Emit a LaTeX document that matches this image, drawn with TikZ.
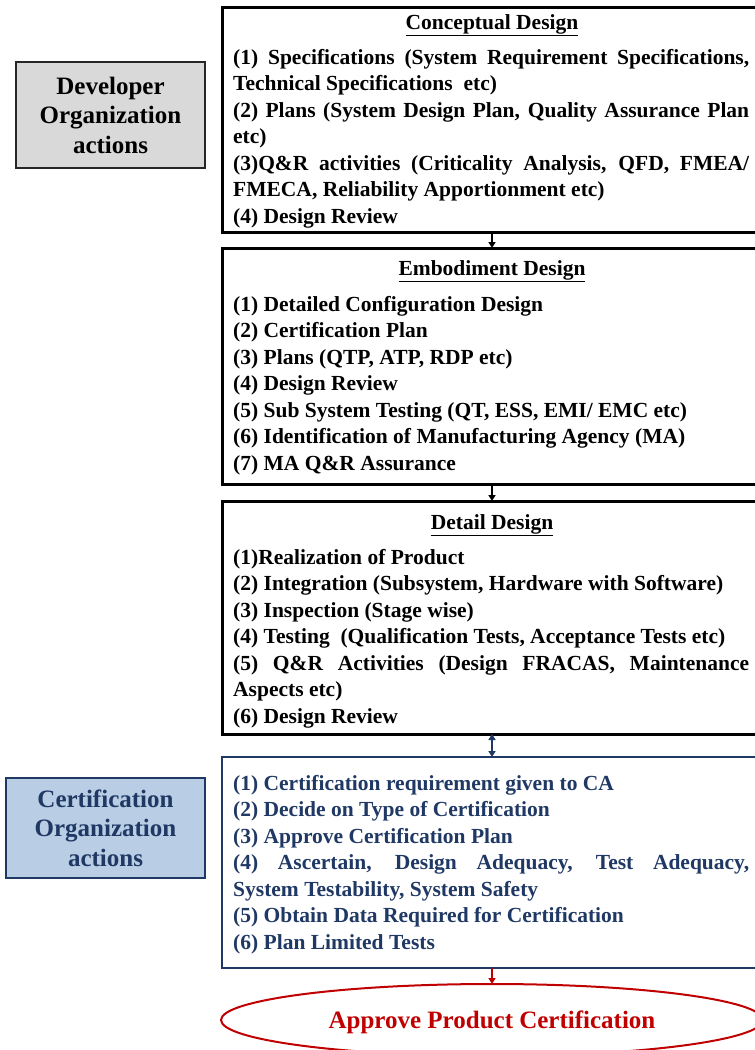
\documentclass[tikz,border=0pt]{standalone}
\usepackage{fontspec}
\setmainfont{Liberation Serif}
\usetikzlibrary{arrows.meta,shapes.geometric}
\definecolor{navy}{HTML}{1F3864}
\definecolor{cardinal}{HTML}{C00000}
\definecolor{sidegray}{HTML}{D9D9D9}
\definecolor{sideblue}{HTML}{B9CDE5}
\begin{document}
\begin{tikzpicture}[x=1pt,y=-1pt,
  stagebox/.style={draw=black, line width=3pt, minimum width=540pt, anchor=north west, inner sep=0pt, outer sep=0pt},
  bodytext/.style={anchor=north west, text width=516pt, align=justify, inner sep=0pt, font=\fontsize{21.5}{26.5}\selectfont\bfseries},
  titletext/.style={anchor=base, inner sep=0pt, font=\fontsize{21.5}{26.5}\selectfont\bfseries},
  sidebox/.style={line width=2.5pt, align=center, inner sep=0pt, font=\fontsize{25}{29.5}\selectfont\bfseries},
  flowarrow/.style={line width=1.5pt, -{Triangle[length=6pt,width=7pt]}},
]
\useasboundingbox (0,0) rectangle (755,1050);

% side boxes
\node[sidebox, draw=black!85, fill=sidegray, minimum width=189pt, minimum height=106pt] (dev) at (110.5,115) {Developer\\Organization\\actions};
\node[sidebox, draw=navy, fill=sideblue, text=navy, minimum width=199pt, minimum height=100pt] (cert) at (105.5,828) {Certification\\Organization\\actions};

% stage boxes
\node[stagebox, minimum height=225pt] (concept) at (222,7) {};
\node[stagebox, minimum height=236pt] (embody) at (222,248) {};
\node[stagebox, minimum height=233pt] (detail) at (222,501) {};
\node[stagebox, draw=navy, line width=2.5pt, minimum height=211pt] (certbox) at (222,757) {};

% titles
\node[titletext] (concepttitle) at (492,29) {\underline{Conceptual Design}};
\node[titletext] (embodytitle) at (492,275) {\underline{Embodiment Design}};
\node[titletext] (detailtitle) at (492,529) {\underline{Detail Design}};

% bodies
\node[bodytext] (concepttext) at (233,45.45) {\noindent\strut(1) Specifications (System Requirement Specifications,\linebreak
Technical Specifications\ \ etc)\\
(2) Plans (System Design Plan, Quality Assurance Plan\linebreak
etc)\\
(3)Q\&R activities (Criticality Analysis, QFD, FMEA/\linebreak
FMECA, Reliability Apportionment etc)\\
(4) Design Review};

\node[bodytext] (embodytext) at (233,292.45) {\noindent\strut(1) Detailed Configuration Design\\
(2) Certification Plan\\
(3) Plans (QTP, ATP, RDP etc)\\
(4) Design Review\\
(5) Sub System Testing (QT, ESS, EMI/ EMC etc)\\
(6) Identification of Manufacturing Agency (MA)\\
(7) MA Q\&R Assurance};

\node[bodytext] (detailtext) at (233,545.45) {\noindent\strut(1)Realization of Product\\
(2) Integration (Subsystem, Hardware with Software)\\
(3) Inspection (Stage wise)\\
(4) Testing\ \ (Qualification Tests, Acceptance Tests etc)\\
(5) Q\&R Activities (Design FRACAS, Maintenance\linebreak
Aspects etc)\\
(6) Design Review};

\node[bodytext, text=navy] (certtext) at (233,771.45) {\noindent\strut(1) Certification requirement given to CA\\
(2) Decide on Type of Certification\\
(3) Approve Certification Plan\\
(4) Ascertain, Design Adequacy, Test Adequacy,\linebreak
System Testability, System Safety\\
(5) Obtain Data Required for Certification\\
(6) Plan Limited Tests};

% final ellipse
\node[ellipse, draw=cardinal, line width=2pt, minimum width=542pt, minimum height=72pt, inner sep=0pt, outer sep=0pt, text=cardinal, text depth=0pt, font=\fontsize{25}{29.5}\selectfont\bfseries] (approve) at (492,1020) {Approve Product Certification};

% connectors
\draw[flowarrow] (concept.south) -- (embody.north);
\draw[flowarrow] (embody.south) -- (detail.north);
\draw[line width=1.5pt, navy, {Triangle[length=6pt,width=7pt]}-{Triangle[length=6pt,width=7pt]}] (detail.south) -- (certbox.north);
\draw[flowarrow, cardinal] (certbox.south) -- (approve.north);
\end{tikzpicture}
\end{document}
